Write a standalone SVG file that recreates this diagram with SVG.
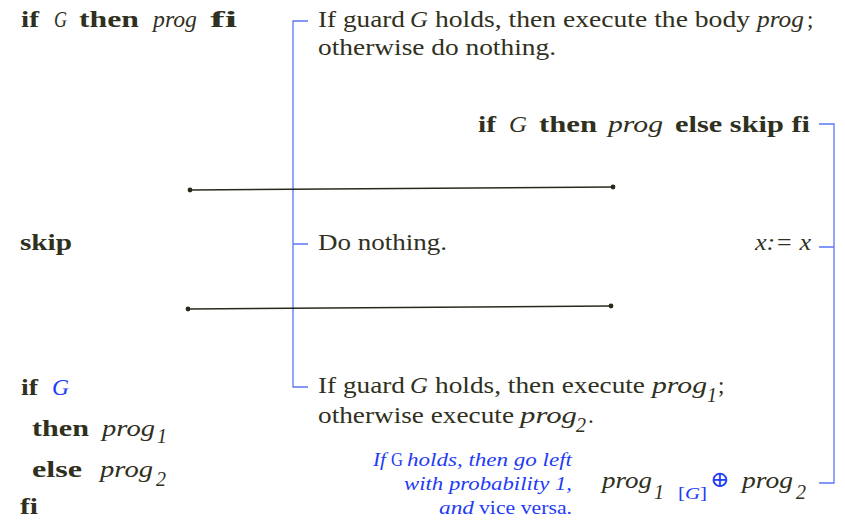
<svg xmlns="http://www.w3.org/2000/svg" width="845" height="520" viewBox="0 0 845 520">
  <style>
    text { font-family: 'Liberation Serif', 'DejaVu Serif', serif; fill: #30301e; font-size: 23px; }
    .b { font-weight: bold; }
    .i { font-style: italic; }
    .blue { fill: #1f3cf5; }
    .sub { font-size: 20px; font-style: italic; }
    .note { font-size: 18px; fill: #1f3cf5; }
    .bracket { fill: none; stroke: #5b76f7; stroke-width: 1.3; }
    .rule { stroke: #2a2a1c; stroke-width: 1.6; }
    .end { fill: #2a2a1c; }
  </style>

  <!-- connectors: blue brackets and black rules -->
  <g id="connectors">
    <path class="bracket" d="M308,21 H293 V387 H308 M293,244 H308"/>
    <path class="bracket" d="M819,124 H834 V483 H819 M819,247 H834"/>
    <line class="rule" x1="190" y1="190" x2="613" y2="187"/>
    <circle class="end" cx="190" cy="190" r="2.4"/>
    <circle class="end" cx="613" cy="187" r="2.4"/>
    <line class="rule" x1="188" y1="309" x2="611" y2="306"/>
    <circle class="end" cx="188" cy="309" r="2.4"/>
    <circle class="end" cx="611" cy="306" r="2.4"/>
  </g>

  <!-- if G then prog fi -->
  <g id="n-if-then">
    <text x="21" y="27" class="b" textLength="18" lengthAdjust="spacingAndGlyphs">if</text>
    <text x="54" y="27" class="i" textLength="13" lengthAdjust="spacingAndGlyphs">G</text>
    <text x="79" y="27" class="b" textLength="60" lengthAdjust="spacingAndGlyphs">then</text>
    <text x="153" y="27" class="i" textLength="44" lengthAdjust="spacingAndGlyphs">prog</text>
    <text x="210" y="27" class="b" textLength="27" lengthAdjust="spacingAndGlyphs">fi</text>
  </g>

  <g id="n-desc-if">
    <text x="318" y="27" textLength="87" lengthAdjust="spacingAndGlyphs">If guard</text>
    <text x="410" y="27" class="i" textLength="18" lengthAdjust="spacingAndGlyphs">G</text>
    <text x="435" y="27" textLength="315" lengthAdjust="spacingAndGlyphs">holds, then execute the body</text>
    <text x="757" y="27" class="i" textLength="47" lengthAdjust="spacingAndGlyphs">prog</text>
    <text x="807" y="27">;</text>
    <text x="318" y="55" textLength="238" lengthAdjust="spacingAndGlyphs">otherwise do nothing.</text>
  </g>

  <!-- if G then prog else skip fi -->
  <g id="n-if-else-skip">
    <text x="478" y="132" class="b" textLength="18" lengthAdjust="spacingAndGlyphs">if</text>
    <text x="509" y="132" class="i" textLength="18" lengthAdjust="spacingAndGlyphs">G</text>
    <text x="539" y="132" class="b" textLength="58" lengthAdjust="spacingAndGlyphs">then</text>
    <text x="608" y="132" class="i" textLength="55" lengthAdjust="spacingAndGlyphs">prog</text>
    <text x="675" y="132" class="b" textLength="135" lengthAdjust="spacingAndGlyphs">else skip fi</text>
  </g>

  <!-- skip -->
  <g id="n-skip">
    <text x="20" y="250" class="b" textLength="52" lengthAdjust="spacingAndGlyphs">skip</text>
  </g>
  <g id="n-desc-skip">
    <text x="318" y="250" textLength="129" lengthAdjust="spacingAndGlyphs">Do nothing.</text>
  </g>
  <g id="n-assign">
    <text x="755" y="250" class="i" textLength="56" lengthAdjust="spacingAndGlyphs">x:= x</text>
  </g>

  <!-- if G then prog1 else prog2 fi -->
  <g id="n-ifelse">
    <text x="21" y="395" class="b" textLength="17" lengthAdjust="spacingAndGlyphs">if</text>
    <text x="52" y="395" class="i blue" textLength="17" lengthAdjust="spacingAndGlyphs">G</text>
    <text x="32" y="436" class="b" textLength="57" lengthAdjust="spacingAndGlyphs">then</text>
    <text x="102" y="436" class="i" textLength="53" lengthAdjust="spacingAndGlyphs">prog</text>
    <text x="157" y="443" class="sub">1</text>
    <text x="32" y="477" class="b" textLength="50" lengthAdjust="spacingAndGlyphs">else</text>
    <text x="100" y="477" class="i" textLength="53" lengthAdjust="spacingAndGlyphs">prog</text>
    <text x="156" y="486" class="sub">2</text>
    <text x="20" y="514" class="b" textLength="18" lengthAdjust="spacingAndGlyphs">fi</text>
  </g>

  <g id="n-desc-ifelse">
    <text x="318" y="393" textLength="87" lengthAdjust="spacingAndGlyphs">If guard</text>
    <text x="410" y="393" class="i" textLength="18" lengthAdjust="spacingAndGlyphs">G</text>
    <text x="435" y="393" textLength="210" lengthAdjust="spacingAndGlyphs">holds, then execute</text>
    <text x="652" y="393" class="i" textLength="55" lengthAdjust="spacingAndGlyphs">prog</text>
    <text x="707" y="402" class="sub">1</text>
    <text x="718" y="393">;</text>
    <text x="318" y="423" textLength="196" lengthAdjust="spacingAndGlyphs">otherwise execute</text>
    <text x="520" y="423" class="i" textLength="57" lengthAdjust="spacingAndGlyphs">prog</text>
    <text x="576" y="432" class="sub">2</text>
    <text x="588" y="423">.</text>
  </g>

  <!-- probabilistic choice -->
  <g id="n-prob-note">
    <text x="373" y="466" class="note i" textLength="13" lengthAdjust="spacingAndGlyphs">If</text>
    <text x="391" y="466" class="note" textLength="12" lengthAdjust="spacingAndGlyphs">G</text>
    <text x="407" y="466" class="note i" textLength="165" lengthAdjust="spacingAndGlyphs">holds, then go left</text>
    <text x="404" y="490" class="note i" textLength="168" lengthAdjust="spacingAndGlyphs">with probability 1,</text>
    <text x="439" y="514" class="note i" textLength="35" lengthAdjust="spacingAndGlyphs">and</text>
    <text x="479" y="514" class="note" textLength="93" lengthAdjust="spacingAndGlyphs">vice versa.</text>
  </g>
  <g id="n-prob-choice">
    <text x="602" y="488" class="i" textLength="50" lengthAdjust="spacingAndGlyphs">prog</text>
    <text x="654" y="499" class="sub">1</text>
    <text x="678" y="499" class="blue" style="font-size:17px" textLength="29" lengthAdjust="spacingAndGlyphs">[<tspan class="i">G</tspan>]</text>
    <text x="710" y="487" class="blue" style="font-size:23px">⊕</text>
    <text x="742" y="488" class="i" textLength="51" lengthAdjust="spacingAndGlyphs">prog</text>
    <text x="796" y="499" class="sub">2</text>
  </g>
</svg>
